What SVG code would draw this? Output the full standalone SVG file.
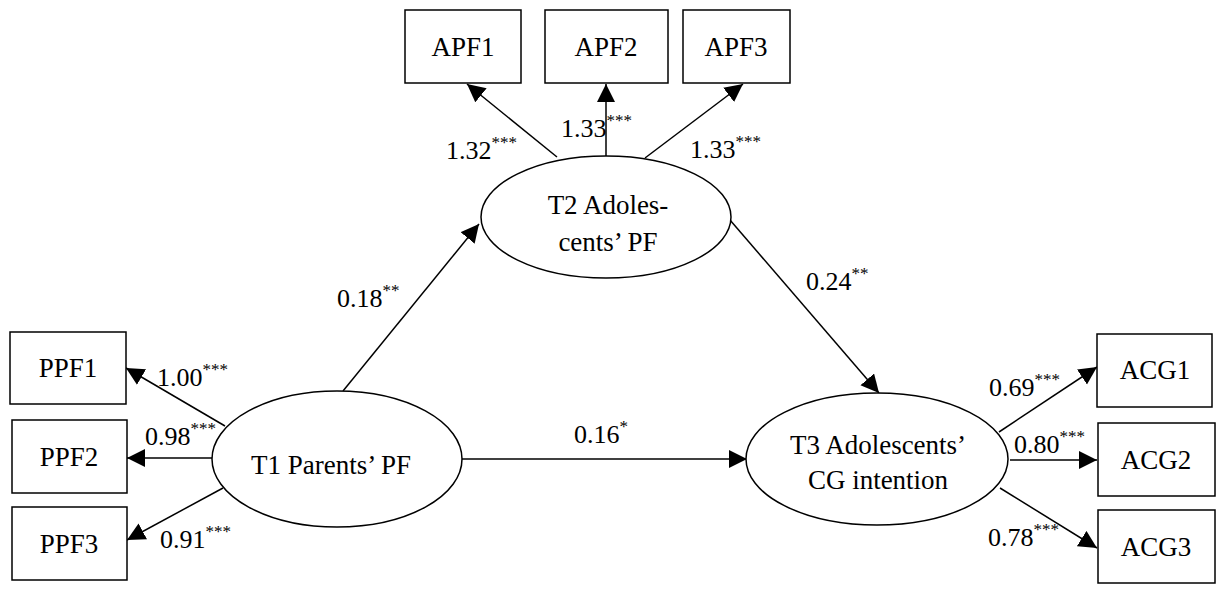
<svg xmlns="http://www.w3.org/2000/svg" width="1223" height="592" viewBox="0 0 1223 592">
<style>
  .box { fill: #ffffff; stroke: #000000; stroke-width: 1.5; }
  .lat { fill: #ffffff; stroke: #000000; stroke-width: 1.5; }
  .t { font-family: "Liberation Serif", "Times New Roman", serif; font-size: 27px; fill: #000000; }
  .n { font-size: 26px; }
  .mid { text-anchor: middle; }
  .sup { font-size: 17px; }
  .conn line { stroke: #000000; stroke-width: 1.5; marker-end: url(#arr); }
</style>
<defs>
  <marker id="arr" markerUnits="userSpaceOnUse" markerWidth="20" markerHeight="19" refX="18" refY="9" orient="auto">
    <path d="M0,0 L18,9 L0,18 Z" fill="#000000"/>
  </marker>
</defs>
<rect width="1223" height="592" fill="#ffffff"/>

<g id="connectors" class="conn">
  <line x1="557" y1="157" x2="467" y2="84"/>
  <line x1="606" y1="156" x2="606" y2="84"/>
  <line x1="645" y1="158" x2="743" y2="84"/>
  <line x1="343" y1="391" x2="479" y2="224"/>
  <line x1="730" y1="220" x2="879" y2="393"/>
  <line x1="462" y1="459" x2="747" y2="459"/>
  <line x1="225" y1="426" x2="126" y2="368"/>
  <line x1="212" y1="458" x2="127" y2="458"/>
  <line x1="223" y1="488" x2="127" y2="540"/>
  <line x1="999" y1="432" x2="1097" y2="367"/>
  <line x1="1010" y1="460" x2="1097" y2="460"/>
  <line x1="1000" y1="488" x2="1097" y2="548"/>
</g>

<g id="APF1"><rect class="box" x="405" y="10" width="116" height="73"/><text class="t mid" x="463" y="56">APF1</text></g>
<g id="APF2"><rect class="box" x="545" y="10" width="123" height="73"/><text class="t mid" x="606" y="56">APF2</text></g>
<g id="APF3"><rect class="box" x="683" y="10" width="107" height="73"/><text class="t mid" x="736" y="56">APF3</text></g>

<g id="PPF1"><rect class="box" x="10" y="332" width="116" height="72"/><text class="t mid" x="68" y="377">PPF1</text></g>
<g id="PPF2"><rect class="box" x="12" y="420" width="115" height="73"/><text class="t mid" x="69" y="466">PPF2</text></g>
<g id="PPF3"><rect class="box" x="12" y="507" width="115" height="73"/><text class="t mid" x="69" y="553">PPF3</text></g>

<g id="ACG1"><rect class="box" x="1097" y="334" width="115" height="73"/><text class="t mid" x="1155" y="379">ACG1</text></g>
<g id="ACG2"><rect class="box" x="1098" y="423" width="117" height="73"/><text class="t mid" x="1156" y="469">ACG2</text></g>
<g id="ACG3"><rect class="box" x="1098" y="510" width="117" height="73"/><text class="t mid" x="1156" y="556">ACG3</text></g>

<g id="T2"><ellipse class="lat" cx="606" cy="217" rx="125" ry="61"/>
  <text class="t mid" x="608" y="214">T2 Adoles-</text>
  <text class="t mid" x="608" y="251">cents’ PF</text></g>
<g id="T1"><ellipse class="lat" cx="337" cy="459" rx="125" ry="68"/>
  <text class="t mid" x="331" y="474">T1 Parents’ PF</text></g>
<g id="T3"><ellipse class="lat" cx="877" cy="459" rx="131" ry="66"/>
  <text class="t mid" x="878" y="454">T3 Adolescents’</text>
  <text class="t mid" x="878" y="489">CG intention</text></g>

<g id="labels">
  <text class="t n" x="446" y="159">1.32<tspan class="sup" dy="-11">***</tspan></text>
  <text class="t n" x="561" y="137">1.33<tspan class="sup" dy="-11">***</tspan></text>
  <text class="t n" x="690" y="158">1.33<tspan class="sup" dy="-11">***</tspan></text>
  <text class="t n" x="337" y="307">0.18<tspan class="sup" dy="-11">**</tspan></text>
  <text class="t n" x="806" y="290">0.24<tspan class="sup" dy="-11">**</tspan></text>
  <text class="t n" x="574" y="443">0.16<tspan class="sup" dy="-11">*</tspan></text>
  <text class="t n" x="157" y="386">1.00<tspan class="sup" dy="-11">***</tspan></text>
  <text class="t n" x="145" y="445">0.98<tspan class="sup" dy="-11">***</tspan></text>
  <text class="t n" x="160" y="548">0.91<tspan class="sup" dy="-11">***</tspan></text>
  <text class="t n" x="989" y="396">0.69<tspan class="sup" dy="-11">***</tspan></text>
  <text class="t n" x="1014" y="453">0.80<tspan class="sup" dy="-11">***</tspan></text>
  <text class="t n" x="988" y="546">0.78<tspan class="sup" dy="-11">***</tspan></text>
</g>
</svg>
